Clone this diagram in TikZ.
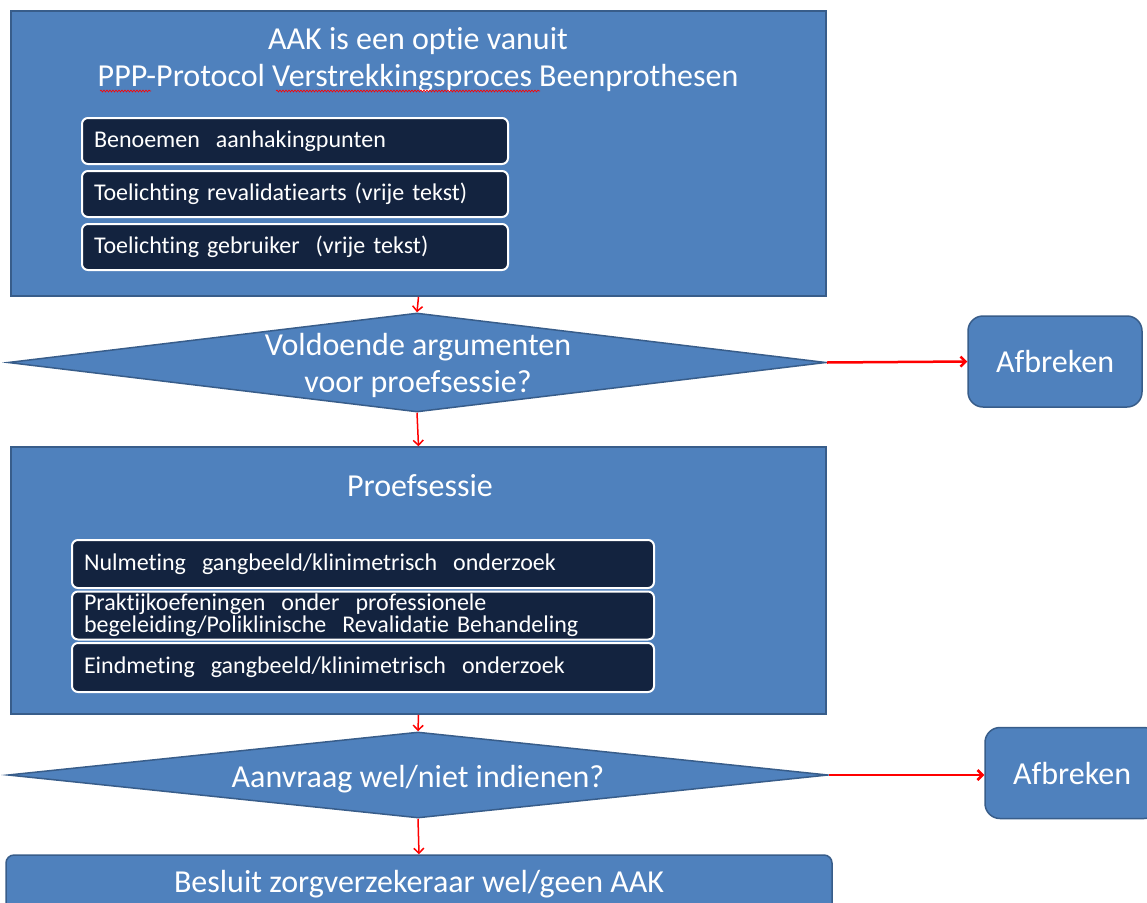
\documentclass[tikz,border=0pt]{standalone}
\usepackage{fontspec}
\setmainfont{Carlito}[Ligatures=CommonOff]
\usepackage{tikz}
\usetikzlibrary{arrows.meta,positioning,shapes.geometric,decorations.pathmorphing}
\definecolor{FlowBlue}{HTML}{4F81BD}
\definecolor{FlowEdge}{HTML}{385D8A}
\definecolor{FlowNavy}{HTML}{13233F}
\definecolor{FlowRed}{HTML}{FF0000}

\begin{document}
\begin{tikzpicture}[
  x=1pt, y=-1pt,
  node distance=5pt,
  big/.style={font=\fontsize{32}{37}\selectfont, text=white, align=center},
  panel/.style={draw=FlowEdge, line width=1.5pt, fill=FlowBlue, inner sep=0pt},
  stepbox/.style={draw=white, line width=2pt, fill=FlowNavy, rounded corners=6pt, text=white,
    font=\fontsize{24}{22}\selectfont, align=left, inner xsep=12pt, inner ysep=0pt},
  decision/.style={diamond, draw=FlowEdge, line width=1.5pt, fill=FlowBlue, inner sep=0pt},
  stopbox/.style={draw=FlowEdge, line width=1.5pt, fill=FlowBlue, rounded corners=15pt,
    minimum width=174pt, minimum height=91pt, big},
  flow/.style={-{Straight Barb[length=5pt,width=10pt]}, draw=FlowRed, line width=1.5pt},
  spell/.style={draw=FlowRed, line width=0.6pt, decorate, decoration={snake, amplitude=1pt, segment length=3pt}}
]
\fill[white] (0,0) rectangle (1147,902);
\path[clip, use as bounding box] (0,0) rectangle (1147,902);

% first block
\node[panel, minimum width=815pt, minimum height=285pt] (intro) at (418.5,153.5) {};
\node[big] (introtitle) at (418,60) {AAK is een optie vanuit\\PPP-Protocol Verstrekkingsproces Beenprothesen};
\node[stepbox, minimum height=46pt, text width=402pt] (point) at (295,141) {Benoemen\ \ aanhakingpunten};
\node[stepbox, minimum height=46pt, text width=402pt, below=of point] (doctor) {Toelichting revalidatiearts (vrije tekst)};
\node[stepbox, minimum height=46pt, text width=402pt, below=of doctor] (user) {Toelichting gebruiker\ \ (vrije tekst)};
\draw[spell] (100,91) -- (151,91);
\draw[spell] (276,91) -- (540,91);

% first question
\node[decision, minimum width=818pt, minimum height=99pt] (askargs) at (417,362.5) {};
\node[big] (askargstext) at (418,365) {Voldoende argumenten\\voor proefsessie?};
\node[stopbox] (stopone) at (1055,361.5) {Afbreken};

% trial session
\node[panel, minimum width=815pt, minimum height=267pt] (trial) at (418.5,580.5) {};
\node[big] (trialtitle) at (420,486) {Proefsessie};
\node[stepbox, minimum height=48pt, text width=558pt] (zero) at (363,564) {Nulmeting\ \ gangbeeld/klinimetrisch\ \ onderzoek};
\node[stepbox, minimum height=48pt, text width=558pt, below=1.5pt of zero] (practice) {Praktijkoefeningen\ \ onder\ \ professionele\\begeleiding/Poliklinische\ \ Revalidatie Behandeling};
\node[stepbox, minimum height=49pt, text width=558pt, below=1.5pt of practice] (final) {Eindmeting\ \ gangbeeld/klinimetrisch\ \ onderzoek};

% second question
\node[decision, minimum width=820pt, minimum height=86pt] (askapply) at (418,775) {};
\node[big] (askapplytext) at (418,779) {Aanvraag wel/niet indienen?};
\node[stopbox] (stoptwo) at (1072,773) {Afbreken};

\node[panel, rounded corners=8pt, minimum width=826pt, minimum height=58pt, big] (verdict) at (419,884) {Besluit zorgverzekeraar wel/geen AAK};

\draw[flow] (intro.south) -- (askargs.north);
\draw[flow, line width=2.5pt] (askargs.east) -- (stopone.west);
\draw[flow] (askargs.south) -- (trial.north);
\draw[flow] (trial.south) -- (askapply.north);
\draw[flow, line width=2.5pt] (askapply.east) -- (askapply.east -| stoptwo.west);
\draw[flow] (askapply.south) -- (verdict.north);
\end{tikzpicture}
\end{document}
